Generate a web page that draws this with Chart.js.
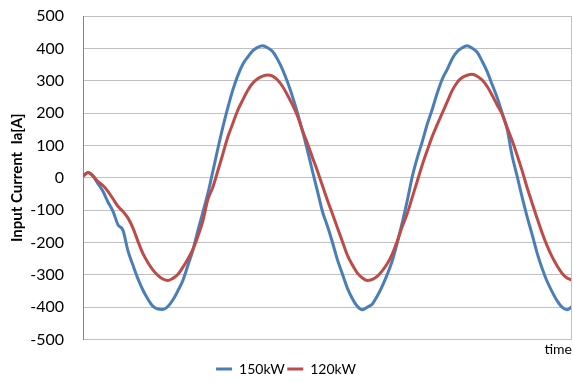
<!DOCTYPE html>
<html>
<head>
<meta charset="utf-8">
<script src="https://cdn.jsdelivr.net/npm/chart.js@4.4.0/dist/chart.umd.min.js"></script>
<style>
  html, body { margin: 0; padding: 0; background: #fff; }
  #wrap { width: 573px; height: 383px; }
</style>
</head>
<body>
<div id="wrap"><canvas id="chart" width="573" height="383"></canvas></div>
<script>
const timeMs = [
  0, 0.5, 1, 1.5, 2, 2.5, 3, 3.5, 4, 4.5, 5, 5.5, 6, 6.5, 7, 7.5, 8, 8.5, 9, 9.5,
  10, 10.5, 11, 11.5, 12, 12.5, 13, 13.5, 14, 14.5, 15, 15.5, 16, 16.5, 17, 17.5, 18, 18.5, 19, 19.5,
  20, 20.5, 21, 21.5, 22, 22.5, 23, 23.5, 24, 24.5, 25, 25.5, 26, 26.5, 27, 27.5, 28, 28.5, 29, 29.5,
  30, 30.5, 31, 31.5, 32, 32.5, 33, 33.5, 34, 34.5, 35, 35.5, 36, 36.5, 37, 37.5, 38, 38.5, 39, 39.5,
  40, 40.5, 41, 41.5, 42, 42.5, 43, 43.5, 44, 44.5, 45, 45.5, 46, 46.5, 47, 47.5, 48, 48.5, 49
];

// input current Ia [A]
const ia150 = [
  5, 16, 5, -18, -42, -75, -103, -145, -162, -225, -270, -312, -347, -375, -397, -406, -407, -398, -378, -350,
  -318, -272, -225, -165, -108, -50, 18, 88, 155, 215, 270, 315, 350, 373, 392, 403, 408, 402, 390, 366,
  334, 295, 250, 200, 144, 83, 20, -42, -105, -150, -200, -254, -298, -342, -374, -398, -408, -400, -390, -365,
  -334, -298, -256, -200, -137, -70, 4, 62, 112, 166, 212, 262, 305, 335, 368, 390, 402, 408, 400, 388,
  360, 328, 288, 248, 200, 150, 68, 5, -60, -120, -175, -232, -280, -320, -352, -380, -400, -408, -398
];
const ia120 = [
  5, 16, 6, -12, -24, -42, -65, -88, -104, -124, -155, -196, -234, -262, -285, -302, -313, -318, -311, -299,
  -277, -252, -222, -182, -135, -68, -30, 20, 72, 125, 167, 208, 240, 270, 292, 306, 314, 318, 314, 302,
  282, 255, 225, 190, 145, 105, 62, 20, -25, -70, -112, -155, -198, -240, -270, -295, -310, -318, -314, -304,
  -287, -265, -235, -195, -150, -110, -60, -10, 40, 85, 128, 165, 200, 235, 270, 295, 310, 317, 320, 314,
  302, 282, 255, 225, 197, 155, 115, 70, 22, -30, -78, -125, -170, -210, -244, -272, -295, -310, -316
];

const seriesNames = ['150kW', '120kW'];
const yMin = -500, yMax = 500, yStep = 100;

const font = 'Lato';
const gridColor = '#c0c0c0';

// right edge of the plot frame
const frameRight = {
  id: 'frameRight',
  afterDraw(chart) {
    const { ctx, chartArea } = chart;
    ctx.save();
    ctx.strokeStyle = gridColor;
    ctx.lineWidth = 1;
    ctx.beginPath();
    ctx.moveTo(Math.round(chartArea.right) - 0.5, chartArea.top);
    ctx.lineTo(Math.round(chartArea.right) - 0.5, chartArea.bottom);
    ctx.stroke();
    ctx.restore();
  }
};

new Chart(document.getElementById('chart'), {
  type: 'line',
  data: {
    labels: timeMs,
    datasets: [
      {
        label: seriesNames[0],
        data: ia150,
        borderColor: '#4a7ebb',
        backgroundColor: '#4a7ebb',
        borderWidth: 3,
        pointRadius: 0,
        cubicInterpolationMode: 'monotone',
        order: 1
      },
      {
        label: seriesNames[1],
        data: ia120,
        borderColor: '#be4b48',
        backgroundColor: '#be4b48',
        borderWidth: 3,
        pointRadius: 0,
        cubicInterpolationMode: 'monotone',
        order: 0
      }
    ]
  },
  options: {
    responsive: false,
    animation: false,
    layout: { padding: { top: 16, right: 1, bottom: -3, left: 0 } },
    plugins: {
      tooltip: { enabled: false },
      legend: {
        position: 'bottom',
        labels: {
          usePointStyle: true,
          pointStyle: 'line',
          pointStyleWidth: 16,
          color: '#000',
          padding: 2.5,
          font: { family: font, size: 14 },
          sort: (a, b) => a.datasetIndex - b.datasetIndex
        }
      }
    },
    scales: {
      x: {
        type: 'linear',
        min: 0,
        max: 49,
        ticks: { display: false },
        grid: { display: false },
        border: { display: false },
        title: {
          display: true,
          text: 'time',
          align: 'end',
          color: '#000',
          font: { family: font, size: 14 },
          padding: { top: 0, bottom: 2 }
        },
        afterFit(scale) { scale.height = 20; scale.paddingLeft = 0; scale.paddingRight = 0; }
      },
      y: {
        min: yMin,
        max: yMax,
        ticks: {
          stepSize: yStep,
          color: '#000',
          padding: 19,
          font: { family: font, size: 16 }
        },
        grid: { color: gridColor, drawTicks: false },
        border: { color: '#868686' },
        title: {
          display: true,
          text: 'Input Current  Ia[A]',
          color: '#000',
          font: { family: font, size: 15, weight: 'bold' },
          padding: { top: 8, bottom: 0 }
        },
        afterFit(scale) {
          scale.width = 83;
          scale.paddingTop = 0;
          scale.paddingBottom = 0;
        }
      }
    }
  },
  plugins: [frameRight]
});
</script>
</body>
</html>
